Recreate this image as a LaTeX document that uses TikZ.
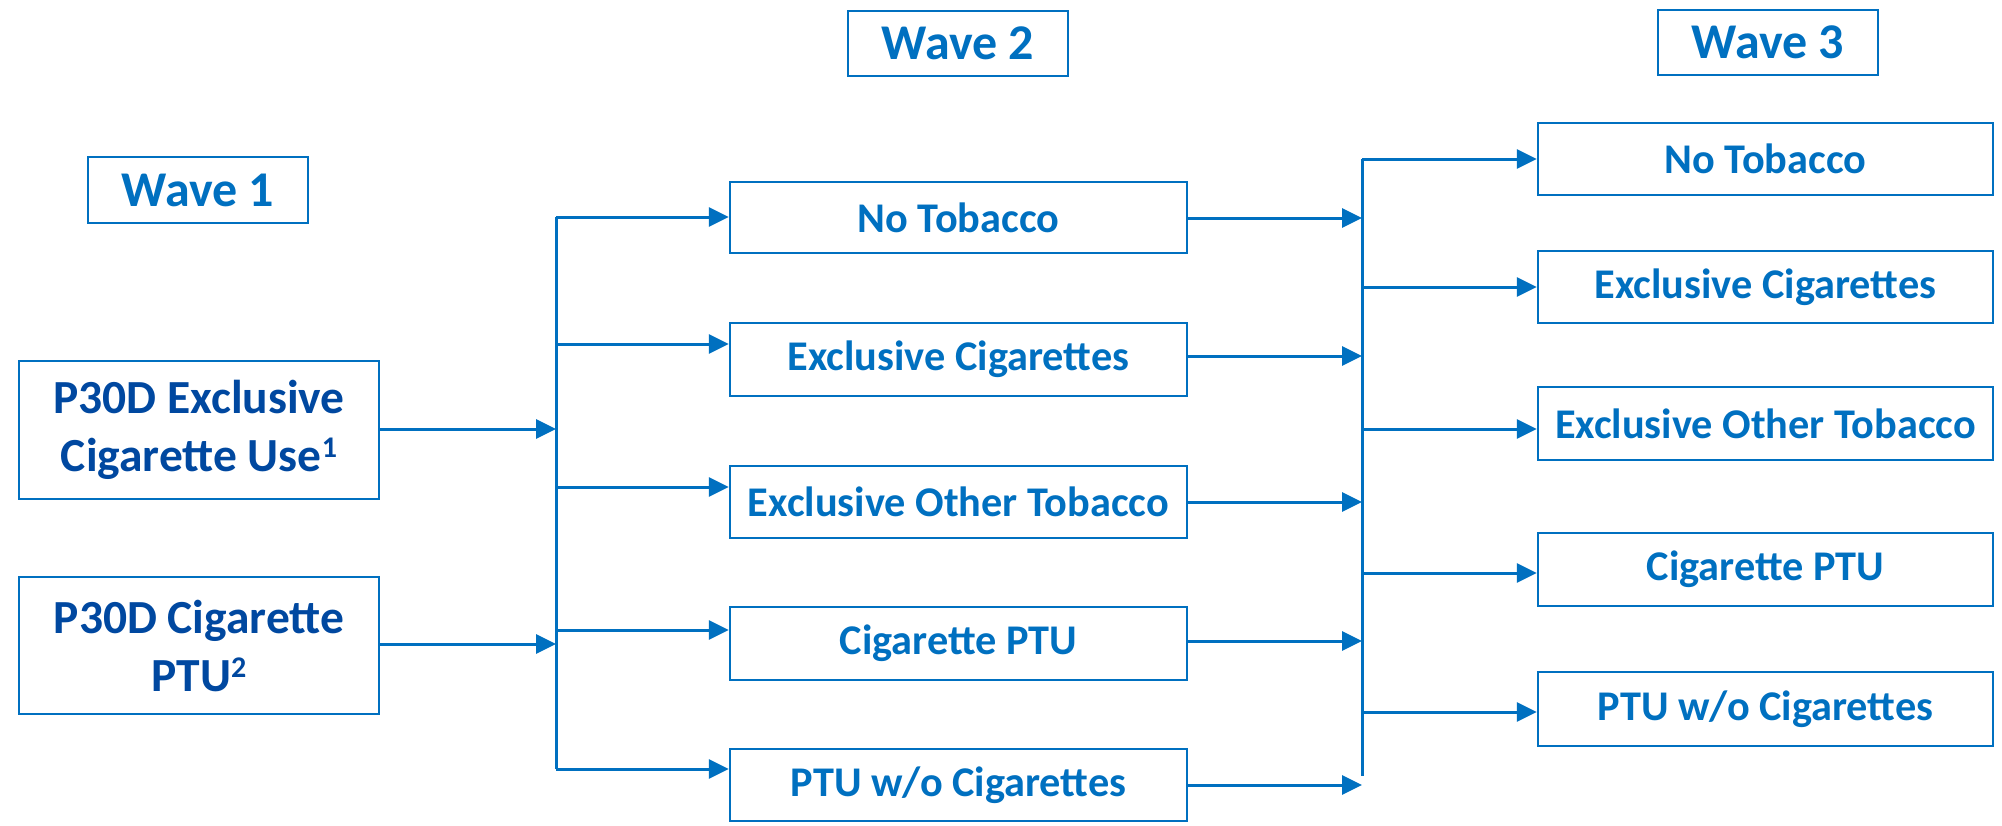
\documentclass[tikz,border=0pt]{standalone}
\usepackage{fontspec}
\setmainfont{Carlito}
\usetikzlibrary{arrows.meta}
\definecolor{wblue}{RGB}{0,112,192}
\definecolor{dblue}{RGB}{0,72,160}
\newcommand{\supnum}[1]{\raisebox{14pt}{\fontsize{30}{30}\selectfont #1}}
\begin{document}
\begin{tikzpicture}[x=1pt,y=-1pt,
  box/.style={draw=wblue, line width=2.5pt, inner sep=0pt, align=center,
    font=\bfseries\fontsize{42.3}{50}\selectfont, text=wblue},
  titlebox/.style={box, minimum width=220pt, minimum height=65pt, font=\bfseries\fontsize{50}{60}\selectfont},
  srcbox/.style={box, minimum width=360pt, minimum height=137pt, text=dblue, font=\bfseries\fontsize{47.5}{58}\selectfont},
  midbox/.style={box, minimum width=457pt, minimum height=72pt},
  endbox/.style={box, minimum width=455pt, minimum height=73pt},
  bus/.style={draw=wblue, line width=3pt},
  arr/.style={bus, -{Triangle[length=20pt,width=19pt]}}]
\useasboundingbox (0,0) rectangle (2002,825);

% titles
\node[titlebox, minimum height=66pt] (w1) at (198,190) {Wave 1};
\node[titlebox] (w2) at (958,43.5) {Wave 2};
\node[titlebox] (w3) at (1768,42.5) {Wave 3};

% wave 1
\node[srcbox, minimum height=138pt] (a1) at (199,430) {P30D Exclusive\\Cigarette Use\supnum{1}};
\node[srcbox] (a2) at (199,645.5) {P30D Cigarette\\PTU\supnum{2}};

% wave 2
\node[midbox, minimum height=71pt] (b1) at (958.5,217.5) {No Tobacco};
\node[midbox, minimum height=73pt] (b2) at (958.5,359.5) {Exclusive Cigarettes};
\node[midbox] (b3) at (958.5,502) {Exclusive Other Tobacco};
\node[midbox, minimum height=73pt] (b4) at (958.5,643.5) {Cigarette PTU};
\node[midbox] (b5) at (958.5,785) {PTU w/o Cigarettes};

% wave 3
\node[endbox, minimum height=72pt] (c1) at (1765.5,159) {No Tobacco};
\node[endbox, minimum height=72pt] (c2) at (1765.5,287) {Exclusive Cigarettes};
\node[endbox] (c3) at (1765.5,423.5) {Exclusive Other Tobacco};
\node[endbox] (c4) at (1765.5,569.5) {Cigarette PTU};
\node[endbox, minimum height=74pt] (c5) at (1765.5,709) {PTU w/o Cigarettes};

% left bus
\coordinate (L1) at (556,217);
\coordinate (L2) at (556,344);
\coordinate (L3) at (556,487);
\coordinate (L4) at (556,630);
\coordinate (L5) at (556,769);
\coordinate (La) at (556,429);
\coordinate (Lb) at (556,644);
\draw[bus] (L1) -- (L5);
\draw[arr] (a1.east |- La) -- (La);
\draw[arr] (a2.east |- Lb) -- (Lb);
\draw[arr] (L1) -- (b1.west |- L1);
\draw[arr] (L2) -- (b2.west |- L2);
\draw[arr] (L3) -- (b3.west |- L3);
\draw[arr] (L4) -- (b4.west |- L4);
\draw[arr] (L5) -- (b5.west |- L5);

% right bus
\coordinate (R1) at (1362,159);
\coordinate (R2) at (1362,287);
\coordinate (R3) at (1362,429);
\coordinate (R4) at (1362,573);
\coordinate (R5) at (1362,712);
\coordinate (Rb1) at (1362,218);
\coordinate (Rb2) at (1362,356);
\coordinate (Rb3) at (1362,502);
\coordinate (Rb4) at (1362,641);
\coordinate (Rb5) at (1362,785);
\coordinate (Rend) at (1362,776);
\draw[bus] (R1) -- (Rend);
\draw[arr] (b1.east |- Rb1) -- (Rb1);
\draw[arr] (b2.east |- Rb2) -- (Rb2);
\draw[arr] (b3.east |- Rb3) -- (Rb3);
\draw[arr] (b4.east |- Rb4) -- (Rb4);
\draw[arr] (b5.east |- Rb5) -- (Rb5);
\draw[arr] (R1) -- (c1.west |- R1);
\draw[arr] (R2) -- (c2.west |- R2);
\draw[arr] (R3) -- (c3.west |- R3);
\draw[arr] (R4) -- (c4.west |- R4);
\draw[arr] (R5) -- (c5.west |- R5);
\end{tikzpicture}
\end{document}
